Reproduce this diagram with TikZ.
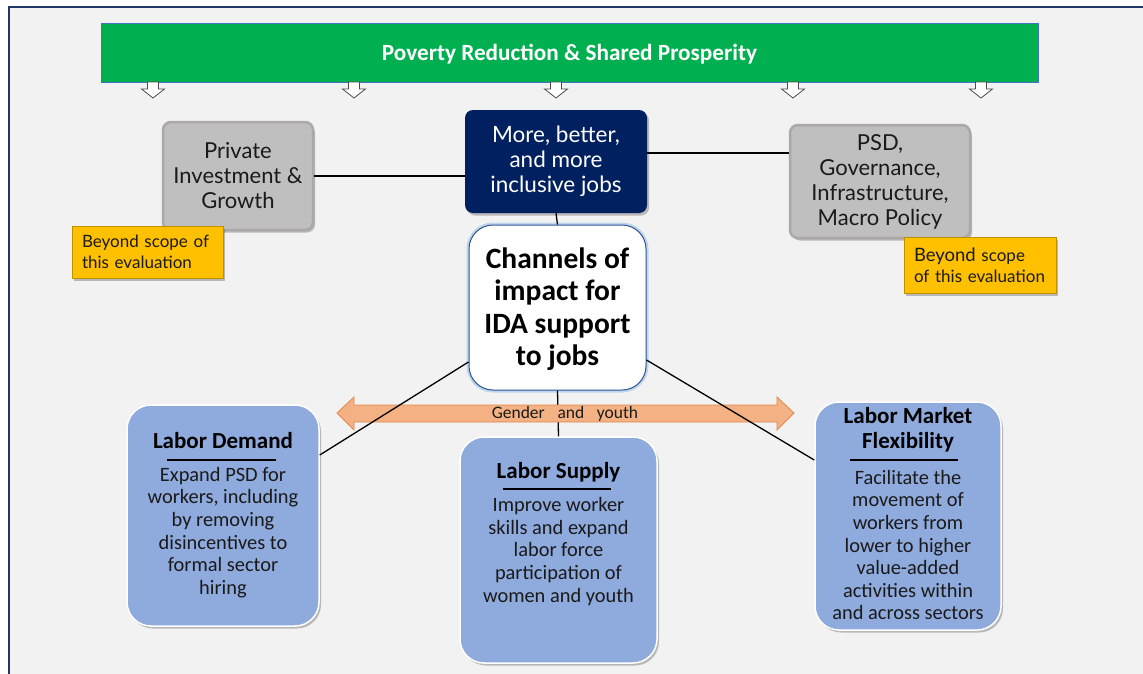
\documentclass[tikz,border=0pt]{standalone}
\usepackage{fontspec}
\setmainfont{Carlito}
\newfontfamily\boxfont{Lato}
\usetikzlibrary{shadows}

\definecolor{pagebg}{HTML}{F2F2F2}
\definecolor{frameblue}{HTML}{1F3864}
\definecolor{bannergreen}{HTML}{00B050}
\definecolor{bannerline}{HTML}{4472C4}
\definecolor{boxgray}{HTML}{BFBFBF}
\definecolor{boxedge}{HTML}{ABA8A8}
\definecolor{navyfill}{HTML}{002060}
\definecolor{notefill}{HTML}{FFC000}
\definecolor{noteedge}{HTML}{BF9000}
\definecolor{channelblue}{HTML}{8FAADC}
\definecolor{chanedge}{HTML}{2F5597}
\definecolor{changlow}{HTML}{9DC3E6}
\definecolor{bandfill}{HTML}{F4B183}
\definecolor{bandedge}{HTML}{E0894A}
\definecolor{inktext}{HTML}{1A1A1A}

\tikzset{
  softshadow/.style={drop shadow={shadow xshift=2pt, shadow yshift=-2.5pt, opacity=0.35, fill=black!70}},
  graybox/.style={draw=boxedge, line width=2.5pt, fill=boxgray, rounded corners=8pt,
    inner sep=0pt, align=center, text=inktext, font={\boxfont\fontsize{22}{25}\selectfont}, softshadow},
  navybox/.style={fill=navyfill, rounded corners=8pt, inner sep=0pt, align=center,
    text=white, font={\boxfont\fontsize{22.5}{25}\selectfont}, softshadow},
  notebox/.style={draw=noteedge, line width=0.8pt, fill=notefill, inner xsep=10pt, inner ysep=0pt,
    align=left, text=inktext, font={\boxfont\fontsize{17}{21}\selectfont}, softshadow},
  channelbox/.style={draw=chanedge, line width=1pt, fill=white, rounded corners=24pt,
    inner sep=0pt, align=center, font={\bfseries\fontsize{29.5}{32.5}\selectfont}},
  bluebox/.style={draw=white, line width=1.5pt, fill=channelblue, rounded corners=24pt,
    inner sep=0pt, softshadow},
  bluetitle/.style={font={\bfseries\fontsize{23}{25}\selectfont}, align=center, inner sep=0pt, text=black},
  bluebody/.style={font={\fontsize{20.4}{22.6}\selectfont}, align=center, inner sep=0pt, text=inktext},
  link/.style={draw=black, line width=1.3pt},
  hollowarrow/.style={draw=black!70, fill=white, line width=0.8pt, line join=miter},
}

\begin{document}
\begin{tikzpicture}[x=1pt,y=-1pt]
  \clip (0,0) rectangle (1143,673);
  \fill[white] (0,0) rectangle (1143,673);
  % framed panel
  \draw[fill=pagebg, draw=frameblue, line width=1.5pt] (9,7) rectangle (1170,700);

  % goal banner
  \node (goal) [fill=bannergreen, draw=bannerline, line width=0.6pt, minimum width=937pt,
    minimum height=59pt, inner sep=0pt] at (569.5,52.5) {};
  \node (goalT) [text=white, inner sep=0pt, font={\bfseries\fontsize{23.2}{25}\selectfont}]
    at (569.5,54.5) {Poverty Reduction \& Shared Prosperity};

  % small hollow arrows under the banner
  \foreach \ax in {153,354,556,793,981}{
    \draw[hollowarrow] (\ax-5.5,82) -- (\ax+5.5,82) -- (\ax+5.5,89) -- (\ax+11.5,89)
      -- (\ax,98) -- (\ax-11.5,89) -- (\ax-5.5,89) -- cycle;
  }

  % upper row
  \node (priv) [graybox, minimum width=150pt, minimum height=108pt] at (238,176)
    {Private\\Investment \&\\Growth};
  \node (jobs) [navybox, minimum width=182pt, minimum height=103pt] at (556,161.5)
    {More, better,\\and more\\inclusive jobs};
  \node (psd) [graybox, minimum width=180pt, minimum height=113pt] at (880,181.5)
    {PSD,\\Governance,\\Infrastructure,\\Macro Policy};

  \path[link] (priv.east) -- (priv.east -| jobs.west);
  \path[link] ([yshift=8.5pt]jobs.east) -- ([yshift=28.5pt]psd.west);

  \node (noteL) [notebox, text width=131pt, minimum height=52pt] at (147.5,252)
    {Beyond scope of\\this evaluation};
  \node (noteR) [notebox, text width=132pt, minimum height=56pt] at (980,265)
    {{\fontsize{18.5}{21}\selectfont Beyond} scope\\of this evaluation};

  % central box with a soft glow
  \draw[changlow, line width=5pt, opacity=0.6, rounded corners=24pt]
    (469,225) rectangle (646,390);
  \node (chan) [channelbox, minimum width=177pt, minimum height=165pt] at (557.5,307.5) {};
  \node (chanT) [inner sep=0pt, align=center, font={\bfseries\fontsize{29.5}{32.5}\selectfont}]
    at (557.5,309) {Channels of\\impact for\\IDA support\\to jobs};
  \path[link] (jobs.south) -- (chan.north);

  % three channel boxes
  \node (dem) [bluebox, minimum width=192pt, minimum height=221pt] at (223,515.5) {};
  \node (demT) [bluetitle] at (223,441) {Labor Demand};
  \draw[line width=1.5pt] (167,460) -- (276,460);
  \node (demB) [bluebody] at (223,532.5)
    {Expand PSD for\\workers, including\\by removing\\disincentives to\\formal sector\\hiring};

  \node (sup) [bluebox, minimum width=197pt, minimum height=226pt] at (558.5,550) {};
  \node (supT) [bluetitle] at (558.5,472) {Labor Supply};
  \draw[line width=1.5pt] (503,489) -- (611,489);
  \node (supB) [bluebody] at (558.5,551.5)
    {Improve worker\\skills and expand\\labor force\\participation of\\women and youth};

  \node (lmf) [bluebox, minimum width=186pt, minimum height=228pt] at (908,516) {};
  \node (lmfT) [bluetitle] at (908,429.5) {Labor Market\\Flexibility};
  \draw[line width=1.5pt] (850,460) -- (958,460);
  \node (lmfB) [bluebody] at (908,545)
    {Facilitate the\\movement of\\workers from\\lower to higher\\value-added\\activities within\\and across sectors};

  % vertical link passes behind the band
  \path[link] (chan.south) -- (sup.north);

  % cross-cutting band
  \draw[fill=bandfill, draw=bandedge, line width=0.8pt, line join=miter]
    (337,413) -- (354,397) -- (354,405) -- (777,405) -- (777,397) -- (794,413)
    -- (777,430) -- (777,422) -- (354,422) -- (354,430) -- cycle;
  \node (band) [font={\fontsize{17.5}{18}\selectfont}, text=inktext, inner sep=0pt] at (565,414)
    {Gender\hspace{0.5em} and\hspace{0.5em} youth};

  % diagonal links on top of the band
  \path[link] ([yshift=-54.5pt]chan.west) -- ([yshift=60.5pt]dem.east);
  \path[link] ([yshift=-52.5pt]chan.east) -- ([yshift=56pt]lmf.west);
\end{tikzpicture}
\end{document}
